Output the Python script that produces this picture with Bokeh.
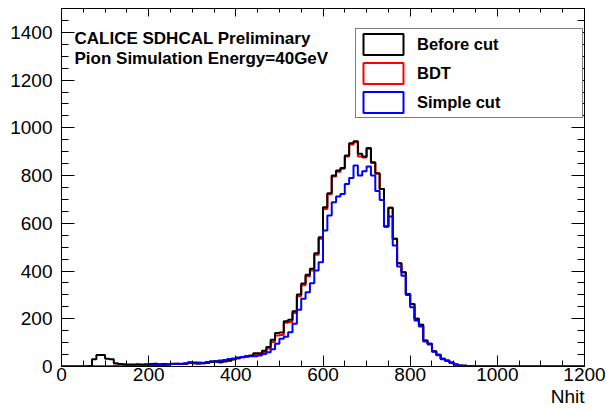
from bokeh.plotting import figure
from bokeh.models import (Range1d, SingleIntervalTicker, LinearAxis, Label, Title,
                          Legend, LegendItem, CustomJSTickFormatter)
from bokeh.embed import file_html
from bokeh.resources import INLINE

# Nhit histograms, 10-hit bins from 0 to 1200 (left bin edges)
bin_width = 10
bin_edges = list(range(0, 1200, bin_width))

before_cut = [
    0, 0, 0, 0, 0, 0, 2, 30, 48, 48,
    32, 30, 14, 10, 9, 8, 8, 9, 8, 9,
    10, 11, 9, 10, 9, 11, 12, 10, 12, 18,
    17, 13, 14, 16, 20, 22, 18, 22, 25, 30,
    36, 40, 43, 46, 55, 56, 66, 82, 112, 140,
    142, 190, 196, 232, 302, 348, 384, 410, 475, 542,
    667, 726, 800, 821, 832, 884, 935, 944, 891, 880,
    916, 856, 810, 744, 587, 665, 535, 433, 395, 304,
    262, 200, 175, 109, 95, 64, 49, 32, 25, 17,
    8, 4, 3, 2, 1, 0, 0, 0, 0, 0,
    0, 0, 0, 0, 0, 0, 0, 0, 0, 0,
    0, 0, 0, 0, 0, 0, 0, 0, 0, 0,
]

bdt = [
    0, 0, 0, 0, 0, 0, 0, 0, 0, 0,
    0, 0, 4, 8, 5, 5, 5, 6, 5, 6,
    7, 8, 7, 8, 8, 10, 11, 10, 12, 16,
    15, 13, 14, 16, 19, 21, 18, 21, 24, 29,
    34, 38, 41, 44, 50, 52, 60, 75, 103, 130,
    132, 183, 186, 224, 294, 340, 378, 402, 468, 535,
    660, 722, 796, 816, 829, 880, 930, 940, 880, 876,
    912, 853, 808, 744, 587, 665, 535, 433, 395, 304,
    262, 200, 175, 109, 95, 64, 49, 32, 25, 17,
    8, 4, 3, 2, 1, 0, 0, 0, 0, 0,
    0, 0, 0, 0, 0, 0, 0, 0, 0, 0,
    0, 0, 0, 0, 0, 0, 0, 0, 0, 0,
]

simple_cut = [
    0, 0, 0, 0, 0, 0, 0, 0, 0, 0,
    0, 0, 0, 0, 0, 0, 0, 0, 0, 0,
    5, 5, 6, 6, 7, 10, 10, 11, 14, 15,
    13, 17, 16, 19, 22, 20, 25, 27, 31, 33,
    38, 40, 42, 43, 43, 46, 52, 60, 72, 95,
    116, 125, 144, 179, 238, 284, 311, 349, 402, 437,
    570, 633, 688, 712, 723, 765, 790, 842, 800, 818,
    838, 800, 735, 698, 587, 628, 507, 419, 380, 300,
    248, 193, 168, 105, 92, 62, 47, 30, 23, 15,
    8, 3, 3, 2, 1, 0, 0, 0, 0, 0,
    0, 0, 0, 0, 0, 0, 0, 0, 0, 0,
    0, 0, 0, 0, 0, 0, 0, 0, 0, 0,
]

legend_labels = ["Before cut", "BDT", "Simple cut"]
colors = ["black", "red", "blue"]
FONT = "Liberation Sans"

p = figure(width=607, height=409, output_backend="svg", toolbar_location=None,
           x_range=Range1d(0, 1200), y_range=Range1d(0, 1500),
           min_border_left=61, min_border_right=23,
           min_border_top=8, min_border_bottom=43)
p.background_fill_color = "white"
p.border_fill_color = "white"
p.outline_line_color = "black"
p.outline_line_width = 1
p.xgrid.visible = False
p.ygrid.visible = False

# bottom / left axes with labels, ticks pointing inward
xax = p.xaxis[0]
xax.ticker = SingleIntervalTicker(interval=200, num_minor_ticks=4)
yax = p.yaxis[0]
yax.ticker = SingleIntervalTicker(interval=200, num_minor_ticks=4)
for ax in (xax, yax):
    ax.axis_line_color = "black"
    ax.major_tick_line_color = "black"
    ax.minor_tick_line_color = "black"
    ax.major_tick_out = 0
    ax.minor_tick_out = 0
    ax.major_label_text_font = FONT
    ax.major_label_text_font_size = "19px"
    ax.major_label_text_color = "black"
xax.major_tick_in = 11
xax.minor_tick_in = 6
xax.major_label_standoff = 1
yax.major_tick_in = 13
yax.minor_tick_in = 7
yax.major_label_standoff = 9

# unlabeled mirror axes on top and right
blank = CustomJSTickFormatter(code="return ''")
top_ax = LinearAxis(ticker=SingleIntervalTicker(interval=200, num_minor_ticks=4),
                    formatter=blank, major_label_text_font_size="0px",
                    major_label_standoff=0, major_tick_in=8, major_tick_out=0,
                    minor_tick_in=4, minor_tick_out=0, axis_line_color="black")
right_ax = LinearAxis(ticker=SingleIntervalTicker(interval=200, num_minor_ticks=4),
                      formatter=blank, major_label_text_font_size="0px",
                      major_label_standoff=0, major_tick_in=13, major_tick_out=0,
                      minor_tick_in=7, minor_tick_out=0, axis_line_color="black")
p.add_layout(top_ax, "above")
p.add_layout(right_ax, "right")

# x-axis title, right-aligned under the axis
p.add_layout(Title(text="Nhit", align="right", text_font=FONT,
                   text_font_size="19px", text_font_style="normal",
                   text_color="black", standoff=0, offset=0), "below")

# histogram outlines
def outline(counts, color):
    xs = bin_edges + [1200]
    ys = counts + [counts[-1]]
    return p.step(xs, ys, mode="after", line_color=color, line_width=2)

outline(bdt, "red")
outline(before_cut, "black")
outline(simple_cut, "blue")

# box-shaped legend swatches (one off-range box each, used only by the legend)
items = []
for lab, col in zip(legend_labels, colors):
    r = p.quad(left=[-60], right=[-50], top=[-50], bottom=[-60], fill_color=None,
               line_color=col, line_width=2)
    items.append(LegendItem(label=lab, renderers=[r]))

legend = Legend(items=items, location=(294, 248), orientation="vertical",
                glyph_width=50, glyph_height=26, spacing=3, padding=2,
                margin=0, label_standoff=9, label_width=163,
                label_text_font=FONT, label_text_font_style="bold",
                label_text_font_size="16.5px", label_text_color="black",
                border_line_color="black", border_line_width=1,
                background_fill_color="white", background_fill_alpha=1.0)
p.add_layout(legend, "center")

p.add_layout(Label(x=13, y=328.5, x_units="screen", y_units="screen",
                   text="CALICE SDHCAL Preliminary", text_font=FONT,
                   text_font_style="bold", text_font_size="17px",
                   text_baseline="alphabetic", text_color="black"))
p.add_layout(Label(x=13, y=308.5, x_units="screen", y_units="screen",
                   text="Pion Simulation Energy=40GeV", text_font=FONT,
                   text_font_style="bold", text_font_size="17px",
                   text_baseline="alphabetic", text_color="black"))

open("out.html", "w").write(file_html(p, INLINE))
